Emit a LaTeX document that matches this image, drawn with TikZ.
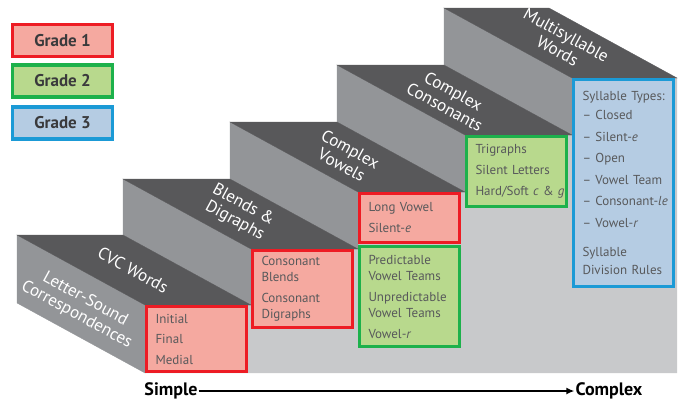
\documentclass[tikz,border=0pt]{standalone}
\usepackage{fontspec}
\setmainfont{PT Sans}
\usetikzlibrary{arrows.meta}

\definecolor{redline}{HTML}{ED1C24}
\definecolor{redfill}{HTML}{F5A9A0}
\definecolor{greenline}{HTML}{1DB14B}
\definecolor{greenfill}{HTML}{B8D98D}
\definecolor{blueline}{HTML}{1B9AD6}
\definecolor{bluefill}{HTML}{B5CCE3}
\definecolor{treadgray}{HTML}{58585A}
\definecolor{sidegray}{HTML}{939598}
\definecolor{frontgray}{HTML}{C8C9CB}
\definecolor{boxtext}{HTML}{58595B}
\definecolor{keytext}{HTML}{3A3A3C}

\begin{document}
\begin{tikzpicture}
  [x=1pt,y=-1pt,
   grade/.style={draw,line width=3.2pt,minimum width=100pt,inner xsep=9pt,
     text width=82pt,align=left,text=boxtext,font=\fontsize{13}{16}\selectfont},
   gone/.style={grade,draw=redline,fill=redfill},
   gtwo/.style={grade,draw=greenline,fill=greenfill},
   gthree/.style={grade,draw=blueline,fill=bluefill},
   key/.style={draw,line width=3.2pt,minimum width=100pt,minimum height=32pt,
     text=keytext,font=\bfseries\fontsize{17}{19}\selectfont},
   steplabel/.style={text=white,rotate=-28.7,align=center,
     font=\fontsize{17}{18}\selectfont},
   ends/.style={inner sep=1pt,font=\bfseries\fontsize{18}{20}\selectfont}]
  \useasboundingbox (0,0) rectangle (680,402);

  % front of the stairs
  \fill[frontgray] (145,373) -- (145,305) -- (251,305) -- (251,249) -- (358,249)
    -- (358,192) -- (465,192) -- (465,135) -- (572,135) -- (572,78) -- (677,78)
    -- (677,373) -- cycle;

  % left faces and treads
  \foreach \x/\top/\bot in {145/305/373,251/249/305,358/192/249,465/135/192,572/78/135}
    \filldraw[sidegray,line width=.3pt] (\x,\top) -- ++(-128,-70) -- (\x-128,\bot-70) -- (\x,\bot) -- cycle;
  \foreach \x/\nx/\top in {145/251/305,251/358/249,358/465/192,465/572/135,572/677/78}
    \filldraw[treadgray,line width=.3pt] (\x,\top) -- (\nx,\top) -- ++(-128,-70) -- (\x-128,\top-70) -- cycle;

  \node[steplabel] (lsc) at (81,307) {Letter-Sound\\Correspondences};
  \node[steplabel] (cvc) at (133,270) {CVC Words};
  \node[steplabel] (bd) at (239,213) {Blends \&\\Digraphs};
  \node[steplabel] (cv) at (346,157) {Complex\\Vowels};
  \node[steplabel] (cc) at (449,99) {Complex\\Consonants};
  \node[steplabel] (mw) at (562,43) {Multisyllable\\Words};

  % boxes on the risers
  \node[gone,minimum height=65pt] (cvcbox) at (196.5,339) {Initial\\[4.5pt]Final\\[4.5pt]Medial};
  \node[gone,minimum height=77pt] (bdbox) at (302.5,289) {Consonant\\Blends\\[5pt]Consonant\\Digraphs};
  \node[gone,minimum height=49pt] (longbox) at (409.5,218) {Long Vowel\\[5pt]Silent-\textit{e}};
  \node[gtwo,minimum height=100pt] (teambox) at (409.5,296.5) {Predictable\\Vowel Teams\\[5pt]\mbox{Unpredictable}\\Vowel Teams\\[5pt]Vowel-\textit{r}};
  \node[gtwo,minimum height=70pt] (trigbox) at (516.5,171.5) {Trigraphs\\[5pt]\mbox{Silent Letters}\\[5pt]\mbox{Hard/Soft \textit{c} \& \textit{g}}};
  \node[gthree,minimum height=207pt] (multibox) at (623.5,183) {\mbox{Syllable Types:}\\[3pt]
    -- Closed\\[5.5pt]-- Silent-\textit{e}\\[5.5pt]-- Open\\[5.5pt]\mbox{-- Vowel Team}\\[5.5pt]
    \mbox{-- Consonant-\textit{le}}\\[5.5pt]-- Vowel-\textit{r}\\[13pt]Syllable\\[2pt]\mbox{Division Rules}};

  % key
  \node[key,draw=redline,fill=redfill] (g1) at (62.5,40.5) {Grade 1};
  \node[key,draw=greenline,fill=greenfill] (g2) at (62.5,81) {Grade 2};
  \node[key,draw=blueline,fill=bluefill] (g3) at (62.5,123) {Grade 3};

  \node[ends] (simple) at (171,391) {Simple};
  \node[ends] (complex) at (609,391) {Complex};
  \draw[line width=1.6pt,-{Latex[length=8pt,width=7pt]}] (simple) -- (complex);

\end{tikzpicture}
\end{document}
